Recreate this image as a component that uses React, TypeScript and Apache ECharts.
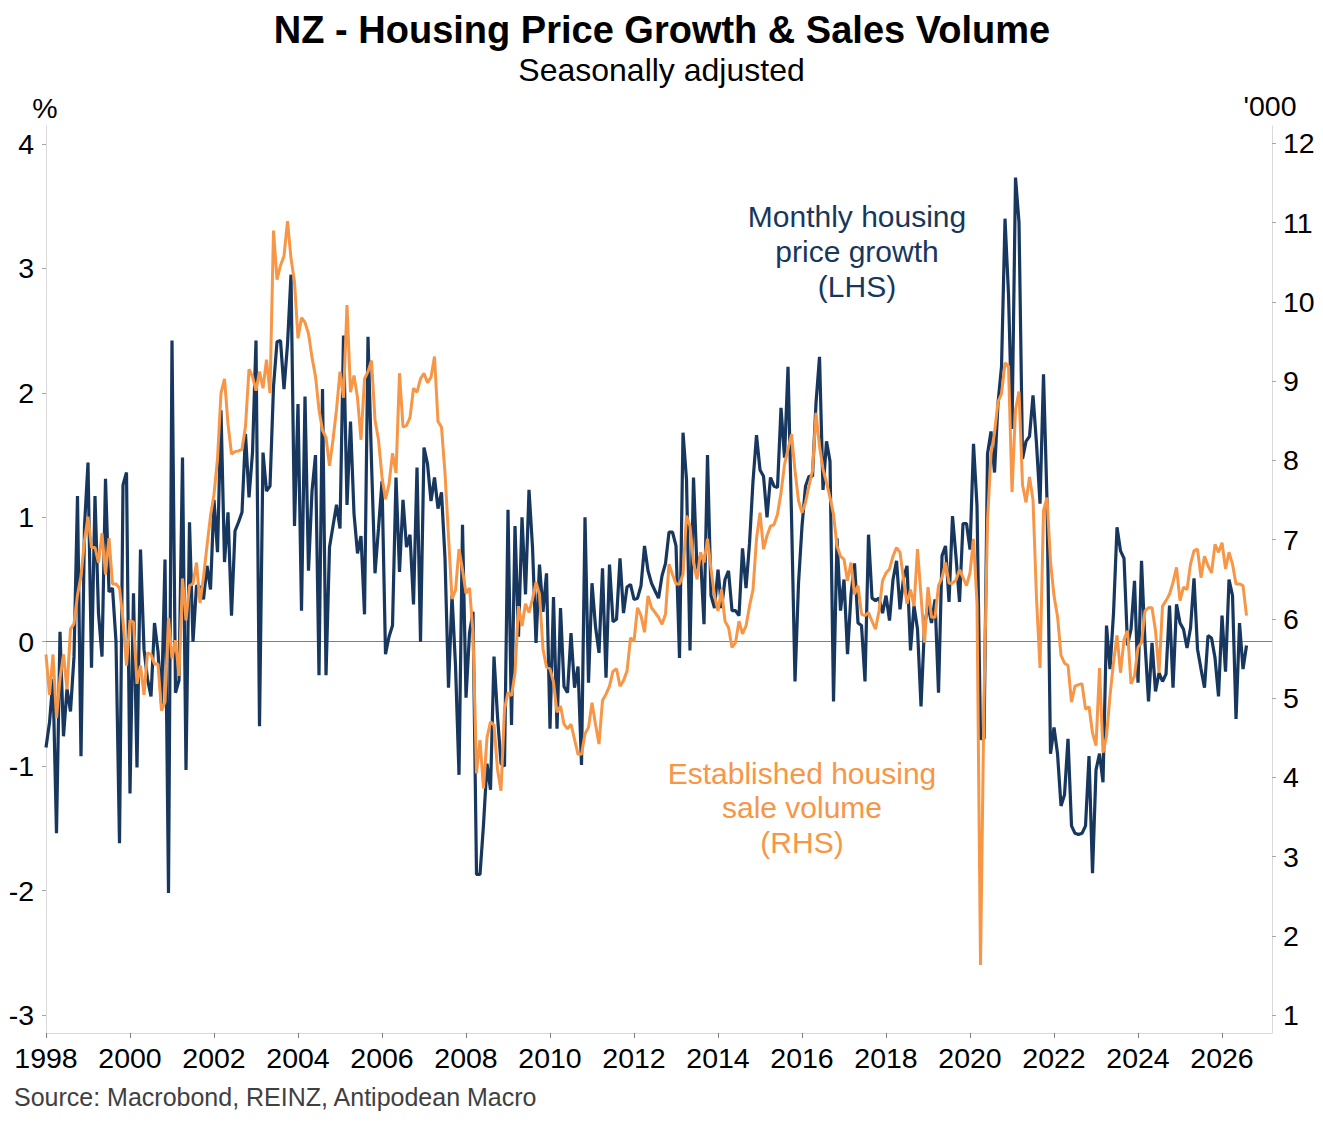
import React, { useEffect, useRef } from "react";
import * as echarts from "echarts";

const FONT = '"Liberation Sans", Arial, Helvetica, sans-serif';
const START_YEAR = 1998;

// Monthly housing price growth, % m/m (LHS), one row per year from Jan 1998
const priceGrowth: number[] = [
  -0.85, -0.65, -0.3, -1.54, 0.08, -0.76, -0.38, -0.56, -0.12, 1.17, -0.92, 0.93,
  1.44, -0.21, 1.17, 0.23, -0.12, 1.31, 0.4, 0.43, 0.0, -1.62, 1.26, 1.36,
  -1.22, 0.39, -1.01, 0.74, -0.06, -0.3, -0.44, 0.15, -0.08, -0.5, 0.66, -2.02,
  2.42, -0.41, -0.31, 1.48, -1.03, 0.96, 0.0, 0.45, 0.44, 0.34, 0.61, 0.42,
  1.14, 0.72, 1.86, 0.64, 1.04, 0.21, 0.89, 0.96, 1.04, 1.67, 1.16, 1.52,
  2.42, -0.68, 1.52, 1.21, 1.25, 2.05, 2.41, 2.42, 2.03, 2.39, 2.95, 0.93,
  1.91, 0.25, 1.97, 0.57, 1.21, 1.5, -0.27, 2.03, -0.27, 0.76, 0.93, 1.1,
  0.91, 2.46, 1.1, 1.77, 1.03, 0.71, 0.85, 0.22, 2.45, 1.44, 0.55, 0.91,
  1.29, -0.1, 0.04, 0.13, 1.32, 0.56, 1.14, 0.76, 0.86, 0.3, 1.4, 0.0,
  1.56, 1.43, 1.13, 1.32, 1.07, 1.2, 0.67, -0.37, 0.37, -0.19, -1.07, 0.94,
  -0.45, 0.07, 0.24, -1.87, -1.87, -1.47, -0.98, -1.19, -0.12, -0.6, -0.98, -1.0,
  1.06, -0.67, 0.93, 0.04, 1.0, 0.38, 1.22, 0.76, -0.01, 0.62, 0.24, 0.55,
  -0.7, 0.36, -0.7, 0.27, -0.36, -0.41, 0.07, -0.37, -0.2, -0.99, 1.0, -0.33,
  0.47, 0.12, -0.09, 0.59, -0.29, 0.62, 0.16, 0.18, 0.67, 0.23, 0.44, 0.46,
  0.34, 0.35, 0.45, 0.77, 0.57, 0.47, 0.41, 0.35, 0.53, 0.63, 0.88, 0.88,
  0.77, -0.13, 1.68, 1.3, -0.07, 1.32, 0.58, 0.69, 0.14, 1.5, 0.37, 0.27,
  0.58, 0.27, 0.5, 0.57, 0.25, 0.25, 0.21, 0.75, 0.43, 0.79, 1.29, 1.66,
  1.38, 1.33, 1.0, 1.32, 1.25, 1.24, 1.88, 1.48, 2.21, 1.01, -0.32, 0.47,
  0.93, 1.25, 1.33, 1.33, 1.92, 2.29, 1.22, 1.61, 1.45, -0.48, 0.83, 0.25,
  0.5, -0.1, 0.38, 0.63, 0.15, 0.13, -0.32, 0.86, 0.35, 0.33, 0.35, 0.23,
  0.37, 0.17, 0.5, 0.65, 0.26, 0.51, 0.61, -0.07, 0.29, 0.1, -0.52, 0.13,
  0.29, 0.15, 0.34, -0.41, 0.69, 0.77, 0.32, 1.01, 0.68, 0.32, 0.95, 0.95,
  0.74, 1.59, 1.09, -0.78, -0.78, 1.51, 1.69, 1.36, 1.92, 2.21, 3.4, 2.79,
  1.71, 3.73, 3.37, 1.47, 1.61, 1.65, 1.98, 1.59, 1.11, 2.15, 1.13, -0.9,
  -0.69, -0.9, -1.32, -1.23, -0.78, -1.48, -1.54, -1.55, -1.54, -1.48, -0.92, -1.86,
  -1.03, -0.9, -1.13, 0.13, -0.22, 0.23, 0.92, 0.73, 0.67, -0.03, 0.1, 0.49,
  -0.33, 0.65, -0.01, -0.48, -0.01, -0.4, -0.25, -0.32, -0.26, 0.29, -0.37, 0.3,
  0.15, 0.1, -0.05, 0.11, 0.51, -0.06, -0.22, -0.37, 0.05, 0.03, -0.13, -0.44,
  0.21, -0.24, 0.5, 0.37, -0.62, 0.15, -0.22, -0.03,
];

// Established housing sale volume, '000 (RHS), one row per year from Jan 1998
const saleVolume: number[] = [
  5.55, 5.04, 5.55, 4.75, 5.25, 5.55, 5.11, 5.87, 5.94, 6.3, 6.54, 6.99,
  7.29, 6.9, 6.9, 6.71, 7.08, 6.56, 7.02, 6.44, 6.44, 6.39, 5.98, 5.41,
  5.98, 5.96, 5.18, 5.41, 5.04, 5.57, 5.55, 5.43, 5.43, 4.84, 4.95, 6.01,
  5.5, 5.73, 5.28, 6.51, 5.98, 6.42, 6.44, 6.71, 6.2, 6.53, 6.92, 7.3,
  7.57, 8.02, 8.85, 9.03, 8.46, 8.08, 8.11, 8.12, 8.14, 8.43, 9.15, 9.06,
  8.88, 9.12, 8.91, 9.27, 8.85, 10.9, 10.28, 10.46, 10.58, 11.02, 10.55, 10.25,
  9.54, 9.8, 9.74, 9.6, 9.3, 9.06, 8.64, 8.38, 8.29, 7.93, 8.26, 8.64,
  9.12, 8.79, 9.96, 8.86, 9.07, 8.79, 8.26, 9.03, 9.12, 9.26, 8.51, 8.26,
  7.79, 7.51, 7.7, 8.09, 7.84, 9.1, 8.42, 8.44, 8.54, 8.91, 8.86, 9.03,
  9.1, 8.98, 9.05, 9.31, 8.49, 8.42, 7.84, 7.04, 6.25, 6.36, 6.88, 6.62,
  6.32, 6.39, 5.83, 4.05, 4.47, 3.86, 4.5, 4.7, 4.66, 4.1, 3.83, 4.86,
  5.07, 5.03, 5.32, 6.16, 5.91, 6.19, 6.08, 6.25, 6.46, 6.31, 5.62, 5.39,
  5.37, 5.2, 4.82, 4.9, 4.67, 4.61, 4.67, 4.48, 4.29, 4.29, 4.55, 4.63,
  4.94, 4.67, 4.42, 4.97, 5.05, 5.15, 5.34, 5.37, 5.15, 5.22, 5.34, 5.76,
  5.72, 6.14, 6.04, 5.83, 6.29, 6.14, 6.08, 6.02, 5.93, 6.06, 6.69, 6.56,
  6.44, 6.44, 6.56, 7.3, 7.17, 6.71, 6.5, 6.84, 6.71, 7.01, 6.63, 6.29,
  6.1, 6.37, 5.97, 5.89, 5.64, 5.7, 5.97, 5.81, 5.91, 6.16, 6.37, 7.01,
  7.34, 6.88, 7.05, 7.17, 7.19, 7.32, 7.59, 7.95, 8.14, 8.33, 7.87, 7.49,
  7.34, 7.47, 7.68, 7.87, 8.6, 8.18, 7.89, 7.72, 7.53, 7.32, 6.92, 6.79,
  6.75, 6.48, 6.71, 6.31, 6.42, 6.06, 6.04, 6.08, 5.97, 5.87, 6.1, 6.48,
  6.58, 6.63, 6.79, 6.9, 6.84, 6.5, 6.19, 6.37, 6.16, 6.88, 6.29, 5.7,
  6.4, 6.02, 6.02, 6.42, 6.52, 6.71, 6.45, 6.45, 6.49, 6.62, 6.52, 6.42,
  6.58, 7.01, 6.19, 1.63, 5.0, 7.24, 8.08, 8.35, 8.74, 8.84, 9.23, 9.19,
  7.6, 8.64, 8.87, 7.69, 7.47, 7.79, 7.5, 6.26, 5.38, 7.37, 7.53, 6.72,
  6.29, 6.03, 5.54, 5.44, 5.41, 4.95, 5.15, 5.17, 5.18, 4.86, 4.89, 4.56,
  4.4, 5.38, 4.31, 4.52, 5.03, 5.45, 5.79, 5.32, 5.74, 5.85, 5.18, 5.28,
  5.64, 5.7, 6.1, 6.14, 6.14, 5.85, 5.32, 6.16, 6.23, 6.31, 6.46, 6.65,
  6.23, 6.4, 6.37, 6.69, 6.86, 6.88, 6.52, 6.79, 6.67, 6.58, 6.94, 6.84,
  6.96, 6.63, 6.84, 6.69, 6.44, 6.44, 6.42, 6.04,
];

const yearTicks: number[] = [1998, 2000, 2002, 2004, 2006, 2008, 2010, 2012, 2014, 2016, 2018, 2020, 2022, 2024, 2026];
const leftTicks: number[] = [-3, -2, -1, 0, 1, 2, 3, 4];
const rightTicks: number[] = [1, 2, 3, 4, 5, 6, 7, 8, 9, 10, 11, 12];

const NAVY = "#17375e";
const ORANGE = "#f79646";
const AXIS_GREY = "#d9d9d9";

const toPoints = (vals: number[]) => vals.map((v, i) => [START_YEAR + i / 12, v]);

export default function App() {
  const ref = useRef<HTMLDivElement>(null);

  useEffect(() => {
    document.body.style.margin = "0";
    const chart = echarts.init(ref.current as HTMLDivElement, null, { renderer: "svg" });

    const txt = (text: string, x: number, y: number, size: number, fill: string, align = "center", weight = "normal") => ({
      type: "text",
      x,
      y,
      silent: true,
      style: {
        text,
        fill,
        font: `${weight} ${size}px ${FONT}`,
        align,
        verticalAlign: "middle",
      },
    });

    chart.setOption({
      animation: false,
      backgroundColor: "#ffffff",
      textStyle: { fontFamily: FONT },
      grid: { left: 46, right: 51, top: 126, bottom: 89, containLabel: false },
      xAxis: {
        type: "value",
        min: 1998,
        max: 2027.19,
        axisLine: { show: true, onZero: false, lineStyle: { color: AXIS_GREY, width: 1 } },
        axisTick: { show: true, length: 5, customValues: yearTicks, lineStyle: { color: "#808080", width: 1 } },
        axisLabel: {
          customValues: yearTicks,
          formatter: (v: number) => String(v),
          fontSize: 28.5,
          color: "#000000",
          margin: 10,
          fontFamily: FONT,
        },
        splitLine: { show: false },
      },
      yAxis: [
        {
          type: "value",
          position: "left",
          min: -3.145,
          max: 4.145,
          axisLine: { show: true, onZero: false, lineStyle: { color: AXIS_GREY, width: 1 } },
          axisTick: { show: true, length: 4, customValues: leftTicks, lineStyle: { color: "#a6a6a6", width: 1 } },
          axisLabel: {
            customValues: leftTicks,
            formatter: (v: number) => String(v),
            fontSize: 28.5,
            color: "#000000",
            margin: 12,
            fontFamily: FONT,
          },
          splitLine: { show: false },
        },
        {
          type: "value",
          position: "right",
          min: 0.773,
          max: 12.22,
          axisLine: { show: true, onZero: false, lineStyle: { color: AXIS_GREY, width: 1 } },
          axisTick: { show: true, length: 4, customValues: rightTicks, lineStyle: { color: "#a6a6a6", width: 1 } },
          axisLabel: {
            customValues: rightTicks,
            formatter: (v: number) => String(v),
            fontSize: 28.5,
            color: "#000000",
            margin: 11,
            fontFamily: FONT,
          },
          splitLine: { show: false },
        },
      ],
      series: [
        {
          name: "Monthly housing price growth (LHS)",
          type: "line",
          yAxisIndex: 0,
          data: toPoints(priceGrowth),
          symbol: "none",
          showSymbol: false,
          lineStyle: { color: NAVY, width: 3.2 },
          itemStyle: { color: NAVY },
          z: 3,
          markLine: {
            silent: true,
            symbol: ["none", "none"],
            label: { show: false },
            lineStyle: { color: "#7f7f7f", width: 1, type: "solid" },
            data: [{ yAxis: 0 }],
            z: 1,
          },
        },
        {
          name: "Established housing sale volume (RHS)",
          type: "line",
          yAxisIndex: 1,
          data: toPoints(saleVolume),
          symbol: "none",
          showSymbol: false,
          lineStyle: { color: ORANGE, width: 3 },
          itemStyle: { color: ORANGE },
          z: 4,
        },
      ],
      graphic: [
        txt("NZ - Housing Price Growth & Sales Volume", 662, 30, 38, "#000000", "center", "bold"),
        txt("Seasonally adjusted", 661.5, 70, 32, "#000000"),
        txt("%", 45, 108, 28.5, "#000000"),
        txt("'000", 1270, 106, 28.5, "#000000"),
        txt("Monthly housing", 857, 216, 30, NAVY),
        txt("price growth", 857, 251, 30, NAVY),
        txt("(LHS)", 857, 286, 30, NAVY),
        txt("Established housing", 802, 773, 30, ORANGE),
        txt("sale volume", 802, 807, 30, ORANGE),
        txt("(RHS)", 802, 842, 30, ORANGE),
        txt("Source: Macrobond, REINZ, Antipodean Macro", 14, 1097, 25, "#404040", "left"),
      ],
    });

    return () => chart.dispose();
  }, []);

  return <div ref={ref} style={{ width: 1323, height: 1122 }} />;
}
